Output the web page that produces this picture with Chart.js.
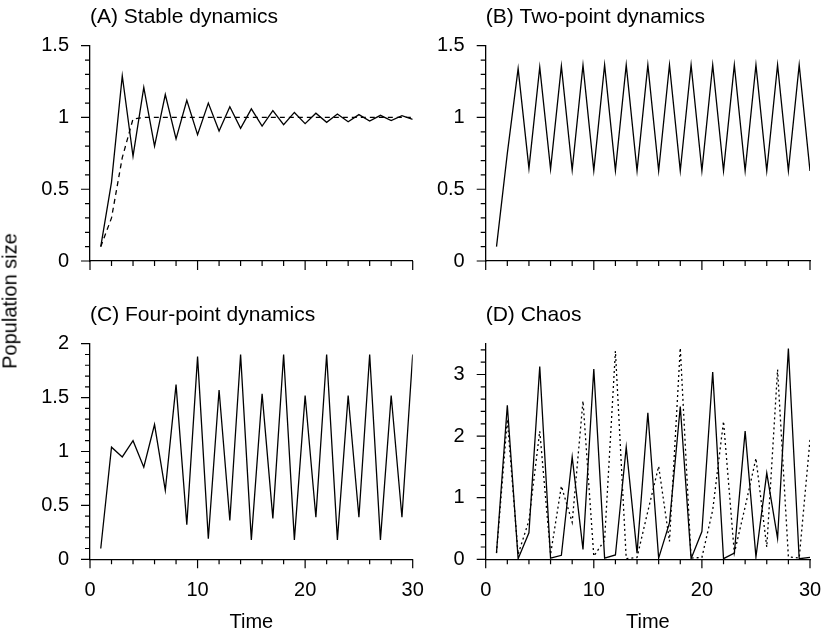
<!DOCTYPE html>
<html>
<head>
<meta charset="utf-8">
<script src="https://cdn.jsdelivr.net/npm/chart.js@4.4.1/dist/chart.umd.min.js"></script>
<style>
  body { margin: 0; background: #fff; }
  #page { position: relative; width: 826px; height: 632px; overflow: hidden; }
  .panel { position: absolute; }
  #ylab {
    position: absolute; left: 10px; top: 301px;
    transform: translate(-50%, -50%) rotate(-90deg);
    font: 20px 'Liberation Sans', Arial, sans-serif; white-space: nowrap; color: #000;
  }
</style>
</head>
<body>
<div id="page">
  <div class="panel" style="left:0px;top:0px;width:430px;height:275px"><canvas id="chartA"></canvas></div>
  <div class="panel" style="left:400px;top:0px;width:426px;height:275px"><canvas id="chartB"></canvas></div>
  <div class="panel" style="left:0px;top:298px;width:430px;height:334px"><canvas id="chartC"></canvas></div>
  <div class="panel" style="left:400px;top:298px;width:426px;height:334px"><canvas id="chartD"></canvas></div>
  <div id="ylab">Population size</div>
</div>
<script>
// time steps
const times = [1, 2, 3, 4, 5, 6, 7, 8, 9, 10, 11, 12, 13, 14, 15, 16, 17, 18, 19, 20, 21, 22, 23, 24, 25, 26, 27, 28, 29, 30];

// (A) stable dynamics: oscillating (solid) and monotonic (dashed)
const stableOsc = [0.1, 0.55, 1.29, 0.73, 1.21, 0.80, 1.16, 0.85, 1.12, 0.88, 1.10, 0.905, 1.075, 0.925, 1.06,
                   0.94, 1.047, 0.95, 1.035, 0.957, 1.03, 0.966, 1.024, 0.97, 1.02, 0.975, 1.015, 0.978, 1.012, 0.987];
const stableMono = [0.1, 0.3, 0.72, 0.99, 1, 1, 1, 1, 1, 1, 1, 1, 1, 1, 1,
                    1, 1, 1, 1, 1, 1, 1, 1, 1, 1, 1, 1, 1, 1, 1];

// (B) two-point cycle
const twoPoint = [0.1, 0.75, 1.34, 0.645, 1.35, 0.64, 1.358, 0.634, 1.365, 0.63, 1.366, 0.63, 1.366, 0.628, 1.366,
                  0.628, 1.366, 0.628, 1.366, 0.628, 1.366, 0.628, 1.366, 0.628, 1.366, 0.628, 1.366, 0.628, 1.366, 0.627];

// (C) four-point cycle
const fourPoint = [0.1, 1.04, 0.95, 1.10, 0.855, 1.25, 0.64, 1.62, 0.32, 1.88, 0.19, 1.57, 0.36, 1.90, 0.18,
                   1.535, 0.38, 1.90, 0.18, 1.52, 0.39, 1.90, 0.18, 1.52, 0.39, 1.90, 0.18, 1.52, 0.39, 1.90];

// (D) chaos, two slightly different starting points
const chaosA = [0.11, 2.50, 0.01, 0.43, 3.13, 0.02, 0.065, 1.66, 0.16, 3.09, 0.02, 0.07, 1.82, 0.10, 2.38,
                0.02, 0.59, 2.48, 0.01, 0.45, 3.04, 0.01, 0.10, 2.08, 0.04, 1.40, 0.34, 3.42, 0.01, 0.03];
const chaosB = [0.1, 2.27, 0.08, 0.63, 2.08, 0.08, 1.19, 0.6, 2.57, 0.05, 0.31, 3.38, 0.01, 0.03, 0.78,
                1.51, 0.29, 3.43, 0.02, 0.03, 0.8, 2.24, 0.1, 0.85, 1.64, 0.2, 3.08, 0.04, 0.02, 1.94];

const xTicks = [0, 10, 20, 30];

Chart.defaults.font.family = "'Liberation Sans', Arial, sans-serif";
Chart.defaults.font.size = 20;
Chart.defaults.color = '#000';

const toPoints = ys => times.map((t, i) => ({ x: t, y: ys[i] }));

// long ticks at labelled values, short ones in between, outside both axes
function tickMarks(xMajor, xMinor, yMajor, yMinor) {
  return {
    id: 'tickMarks',
    afterDraw(chart) {
      const ctx = chart.ctx;
      const area = chart.chartArea;
      ctx.save();
      ctx.strokeStyle = '#000';
      ctx.lineWidth = 1.2;
      ctx.beginPath();
      [['x', xMajor, xMinor], ['y', yMajor, yMinor]].forEach(([id, major, minor]) => {
        const scale = chart.scales[id];
        const n = Math.floor((scale.max - scale.min) / minor + 1e-6);
        for (let i = 0; i <= n; i++) {
          const v = scale.min + i * minor;
          const isMajor = Math.abs(v / major - Math.round(v / major)) < 1e-6;
          const len = isMajor ? 9 : 5;
          const p = scale.getPixelForValue(v);
          if (id === 'x') {
            ctx.moveTo(p, area.bottom);
            ctx.lineTo(p, area.bottom + len);
          } else {
            ctx.moveTo(area.left - len, p);
            ctx.lineTo(area.left, p);
          }
        }
      });
      ctx.stroke();
      ctx.restore();
    }
  };
}

// fixed axis sizes, no extra room for overhanging labels
function fixSize(prop, size) {
  return scale => {
    scale[prop] = size;
    scale.paddingLeft = 0;
    scale.paddingRight = 0;
    scale.paddingTop = 0;
    scale.paddingBottom = 0;
  };
}

function makePanel(id, title, series, yMax, yMajor, yMinor, yAxisWidth, rightPad, bottomRow) {
  new Chart(document.getElementById(id), {
    type: 'line',
    data: {
      datasets: series.map(s => ({
        data: toPoints(s.values),
        borderColor: '#000',
        borderWidth: 1.3,
        borderDash: s.dash || [],
        pointRadius: 0,
        tension: 0,
        fill: false
      }))
    },
    options: {
      responsive: true,
      maintainAspectRatio: false,
      animation: false,
      layout: { padding: { top: 4.5, right: rightPad, left: 0, bottom: 0 } },
      plugins: {
        legend: { display: false },
        tooltip: { enabled: false },
        title: {
          display: true,
          text: title,
          align: 'start',
          fullSize: false,
          font: { size: 21, weight: 'normal', lineHeight: 1.2 },
          padding: { top: 0, bottom: 16 }
        }
      },
      scales: {
        x: {
          type: 'linear',
          min: 0,
          max: 30,
          grid: { display: false, drawTicks: false },
          border: { display: true, color: '#000', width: 1.3 },
          afterBuildTicks: scale => { scale.ticks = xTicks.map(v => ({ value: v })); },
          ticks: { display: bottomRow, padding: 18.7, maxRotation: 0 },
          title: {
            display: bottomRow,
            text: 'Time',
            font: { size: 20, lineHeight: 1 },
            padding: { top: 0, bottom: 0 }
          },
          afterFit: fixSize('height', bottomRow ? 72.7 : 14)
        },
        y: {
          min: 0,
          max: yMax,
          grid: { display: false, drawTicks: false },
          border: { display: true, color: '#000', width: 1.3 },
          ticks: {
            stepSize: yMajor,
            padding: 21,
            callback: v => (Math.abs(v / yMajor - Math.round(v / yMajor)) < 1e-6 ? v : '')
          },
          afterFit: fixSize('width', yAxisWidth)
        }
      }
    },
    plugins: [tickMarks(10, 2, yMajor, yMinor)]
  });
}

makePanel('chartA', '(A) Stable dynamics',
  [{ values: stableOsc }, { values: stableMono, dash: [5, 4] }],
  1.5, 0.5, 0.1, 90, 17.3, false);
makePanel('chartB', '(B) Two-point dynamics',
  [{ values: twoPoint }],
  1.5, 0.5, 0.1, 85.7, 16, false);
makePanel('chartC', '(C) Four-point dynamics',
  [{ values: fourPoint }],
  2, 0.5, 0.1, 90, 17.3, true);
makePanel('chartD', '(D) Chaos',
  [{ values: chaosA }, { values: chaosB, dash: [2, 3] }],
  3.5, 1, 0.2, 85.7, 16, true);
</script>
</body>
</html>
